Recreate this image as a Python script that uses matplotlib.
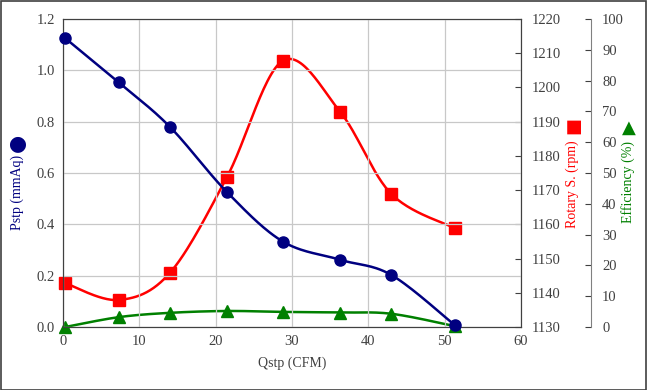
import numpy as np
import matplotlib.pyplot as plt
from matplotlib.patches import Rectangle

# datos
qstp = [0.3, 7.3, 14.0, 21.5, 28.8, 36.3, 43.0, 51.3]
pstp = [1.125, 0.953, 0.780, 0.525, 0.333, 0.262, 0.203, 0.008]
rpm = [1142.8, 1137.9, 1145.8, 1173.9, 1207.8, 1192.9, 1168.9, 1158.9]
eff = [0.0, 3.2, 4.6, 5.2, 4.9, 4.7, 4.3, 0.3]

x_ticks = [0, 10, 20, 30, 40, 50, 60]
p_ticks = [0.0, 0.2, 0.4, 0.6, 0.8, 1.0, 1.2]
rpm_ticks = list(range(1130, 1221, 10))
eff_ticks = list(range(0, 101, 10))

serif = ['Liberation Serif', 'DejaVu Sans']
plt.rcParams['font.family'] = serif


# curva suavizada tipo Excel (Catmull-Rom)
def smooth(x, y, n=30):
    x = np.asarray(x, float)
    y = np.asarray(y, float)
    px = np.concatenate([[x[0]], x, [x[-1]]])
    py = np.concatenate([[y[0]], y, [y[-1]]])
    xs, ys = [], []
    t = np.linspace(0, 1, n)
    for i in range(1, len(px) - 2):
        p0, p1, p2, p3 = [np.array([px[j], py[j]]) for j in range(i - 1, i + 3)]
        c1 = p1 + (p2 - p0) / 6
        c2 = p2 - (p3 - p1) / 6
        b = ((1 - t) ** 3)[:, None] * p1 + (3 * (1 - t) ** 2 * t)[:, None] * c1 \
            + (3 * (1 - t) * t ** 2)[:, None] * c2 + (t ** 3)[:, None] * p2
        xs.extend(b[:, 0])
        ys.extend(b[:, 1])
    return xs, ys


fig = plt.figure(figsize=(6.47, 3.9), dpi=100)
fig.patches.append(Rectangle((0.001, 0.001), 0.997, 0.997, transform=fig.transFigure,
                             fill=False, edgecolor='#404040', linewidth=1.2))
ax = fig.add_axes([63 / 647, 1 - 327 / 390, 458 / 647, 308 / 390])
ax2 = ax.twinx()
ax3 = ax.twinx()
ax3.spines['right'].set_position(('axes', 1.153))

tick_col = '#404040'
ax.set_xlim(0, 60)
ax.set_ylim(0, 1.2)
ax.set_xticks(x_ticks)
ax.set_yticks(p_ticks)
ax.set_yticklabels(['%.1f' % v for v in p_ticks])
ax.grid(True, color='#c8c8c8', linewidth=0.9)
ax.set_axisbelow(True)
ax.tick_params(length=0, labelsize=10.5, colors=tick_col, pad=6)

ax2.set_ylim(1130, 1220)
ax2.set_yticks(rpm_ticks)
ax2.tick_params(direction='in', length=4, labelsize=10.5, colors=tick_col, pad=8)

ax3.set_ylim(0, 100)
ax3.set_yticks(eff_ticks)
ax3.tick_params(direction='in', length=4, labelsize=10.5, colors=tick_col, pad=8)

for a in (ax, ax2):
    for s in a.spines.values():
        s.set_color('#404040')
for s in ('top', 'left', 'bottom'):
    ax3.spines[s].set_visible(False)
ax3.spines['right'].set_color('#808080')

xs, ys = smooth(qstp, pstp)
ax.plot(xs, ys, color='#000080', linewidth=1.8, zorder=3)
ax.plot(qstp, pstp, 'o', color='#000080', markersize=8, zorder=4, clip_on=False)

xs, ys = smooth(qstp, rpm)
ax2.plot(xs, ys, color='#ff0000', linewidth=1.8)
ax2.plot(qstp, rpm, 's', color='#ff0000', markersize=8, clip_on=False)

xs, ys = smooth(qstp, eff)
ax3.plot(xs, ys, color='#008000', linewidth=1.8)
ax3.plot(qstp, eff, '^', color='#008000', markersize=8, clip_on=False)

ax.set_zorder(3)
ax.patch.set_visible(False)

ax.set_xlabel('Qstp (CFM)', fontsize=10, color=tick_col, labelpad=6)

# titulos de ejes con su simbolo encima
fig.text(17 / 647, 1 - 192 / 390, 'Pstp (mmAq)', rotation=90, ha='center', va='center',
         color='#000080', fontsize=10)
fig.text(17 / 647, 1 - 143 / 390, '\u25cf', rotation=90, ha='center', va='center',
         color='#000080', fontsize=15, family=['DejaVu Sans'])
fig.text(572 / 647, 1 - 184 / 390, 'Rotary S. (rpm)', rotation=90, ha='center', va='center',
         color='#ff0000', fontsize=10)
fig.text(573 / 647, 1 - 126 / 390, '\u25a0', rotation=90, ha='center', va='center',
         color='#ff0000', fontsize=13, family=['DejaVu Sans'])
fig.text(628 / 647, 1 - 182 / 390, 'Efficiency (%)', rotation=90, ha='center', va='center',
         color='#008000', fontsize=10)
fig.text(629 / 647, 1 - 128 / 390, '\u25b2', ha='center', va='center',
         color='#008000', fontsize=13, family=['DejaVu Sans'])

fig.savefig('out.png', dpi=100)
